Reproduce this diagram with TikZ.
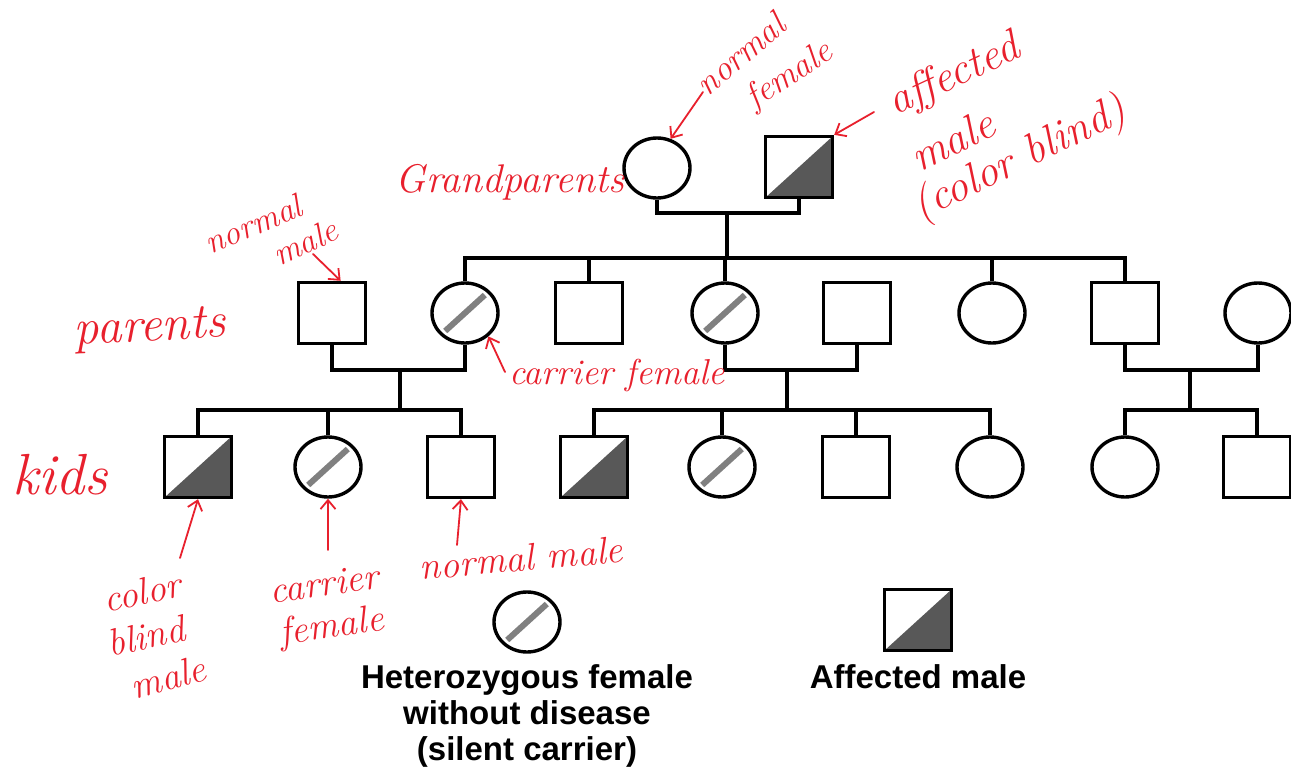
\documentclass[tikz,border=0pt]{standalone}
\usepackage{fontspec}
\newfontfamily\legendfont{Liberation Sans}
\usetikzlibrary{shapes.geometric,arrows.meta,calc}
\definecolor{ink}{RGB}{232,32,45}
\definecolor{darkfill}{RGB}{88,88,88}
\definecolor{bandgray}{RGB}{128,128,128}
\tikzset{
  person/.style={draw=black, line width=3.4pt, inner sep=0pt, fill=white},
  male/.style={person, rectangle, minimum width=67pt, minimum height=61pt},
  female/.style={person, ellipse, minimum width=66pt, minimum height=60pt},
  affected/.style={path picture={\fill[darkfill] (path picture bounding box.south west) -- (path picture bounding box.south east) -- (path picture bounding box.north east) -- cycle;}},
  carrier/.style={path picture={\draw[bandgray, line width=6pt] ($(path picture bounding box.south west)!0.2!(path picture bounding box.north east)$) -- ($(path picture bounding box.south west)!0.8!(path picture bounding box.north east)$);}},
  link/.style={draw=black, line width=3.4pt},
  hand/.style={text=ink, inner sep=0pt, align=center, font=\itshape\fontsize{38}{38}\selectfont},
  note/.style={draw=ink, line width=1.8pt, line cap=round, -{Straight Barb[length=9pt,width=15pt]}},
  legend/.style={inner sep=0pt, align=center, font=\legendfont\bfseries\fontsize{33}{36}\selectfont}
}
\begin{document}
\begin{tikzpicture}[x=1pt,y=-1pt]
\clip (0,0) rectangle (1291,774);
\fill[white] (0,0) rectangle (1291,774);

% grandparents
\node[female] (G1) at (657,168) {};
\node[male,affected] (G2) at (799,167) {};
% parents generation
\node[male] (P1) at (332,313) {};
\node[female,carrier] (P2) at (465,313) {};
\node[male] (P3) at (589,313) {};
\node[female,carrier] (P4) at (725,313) {};
\node[male] (P5) at (857,313) {};
\node[female] (P6) at (992,313) {};
\node[male] (P7) at (1125,313) {};
\node[female] (P8) at (1258,313) {};
% kids
\node[male,affected] (K1) at (198,467) {};
\node[female,carrier] (K2) at (328,467) {};
\node[male] (K3) at (461,467) {};
\node[male,affected] (K4) at (594,467) {};
\node[female,carrier] (K5) at (722,467) {};
\node[male] (K6) at (856,467) {};
\node[female] (K7) at (990,467) {};
\node[female] (K8) at (1125,467) {};
\node[male] (K9) at (1257,467) {};

% connector coordinates
\coordinate (gm) at (727,213);
\coordinate (gs) at (727,258);
\coordinate (m1) at (400,370);
\coordinate (s1) at (400,410);
\coordinate (m2) at (787,370);
\coordinate (s2) at (787,410);
\coordinate (m3) at (1190,370);
\coordinate (s3) at (1190,410);

% grandparents marriage and sibship
\draw[link] (G1.south) -- (G1.south |- gm) -- (G2.south |- gm) -- (G2.south);
\draw[link] (gm) -- (gs);
\draw[link] (P2.north) -- (P2.north |- gs) -- (P7.north |- gs) -- (P7.north);
\draw[link] (P3.north) -- (P3.north |- gs);
\draw[link] (P4.north) -- (P4.north |- gs);
\draw[link] (P6.north) -- (P6.north |- gs);
% couples
\draw[link] (P1.south) -- (P1.south |- m1) -- (P2.south |- m1) -- (P2.south);
\draw[link] (m1) -- (s1);
\draw[link] (P4.south) -- (P4.south |- m2) -- (P5.south |- m2) -- (P5.south);
\draw[link] (m2) -- (s2);
\draw[link] (P7.south) -- (P7.south |- m3) -- (P8.south |- m3) -- (P8.south);
\draw[link] (m3) -- (s3);
% kids sibships
\draw[link] (K1.north) -- (K1.north |- s1) -- (K3.north |- s1) -- (K3.north);
\draw[link] (K2.north) -- (K2.north |- s1);
\draw[link] (K4.north) -- (K4.north |- s2) -- (K7.north |- s2) -- (K7.north);
\draw[link] (K5.north) -- (K5.north |- s2);
\draw[link] (K6.north) -- (K6.north |- s2);
\draw[link] (K8.north) -- (K8.north |- s3) -- (K9.north |- s3) -- (K9.north);

% legend
\node[female,carrier] (L1) at (527,622) {};
\node[male,affected] (L2) at (918,620) {};
\node[legend, anchor=north] (L1t) at (527,664) {Heterozygous female\\without disease\\(silent carrier)};
\node[legend, anchor=north] (L2t) at (918,664) {Affected male};

% handwritten annotations
\node[hand, rotate=40, font=\itshape\fontsize{35}{35}\selectfont] (aNF1) at (740,54) {normal};
\node[hand, rotate=33, font=\itshape\fontsize{35}{35}\selectfont] (aNF2) at (790,76) {female};
\node[hand, rotate=25, font=\itshape\fontsize{44}{44}\selectfont] (aAM1) at (954,76) {affected};
\node[hand, rotate=26, font=\itshape\fontsize{44}{44}\selectfont] (aAM2) at (952,140) {male};
\node[hand, rotate=26, font=\itshape\fontsize{44}{44}\selectfont] (aAM3) at (1020,160) {(color blind)};
\node[hand, font=\itshape\fontsize{40}{40}\selectfont] (aGP) at (510,182) {Grandparents};
\node[hand, rotate=23, font=\itshape\fontsize{34}{34}\selectfont] (aNM1) at (253,224) {normal};
\node[hand, rotate=25, font=\itshape\fontsize{34}{34}\selectfont] (aNM2) at (305,242) {male};
\node[hand, rotate=3, font=\itshape\fontsize{50}{50}\selectfont] (aPA) at (150,330) {parents};
\node[hand, font=\itshape\fontsize{36}{36}\selectfont] (aCF) at (617,375) {carrier female};
\node[hand, font=\itshape\fontsize{58}{58}\selectfont] (aKI) at (60,475) {kids};
\node[hand, rotate=12] (aCB1) at (142,592) {color};
\node[hand, rotate=12] (aCB2) at (146,636) {blind};
\node[hand, rotate=15] (aCB3) at (168,677) {male};
\node[hand, rotate=8] (aCK1) at (324,584) {carrier};
\node[hand, rotate=8] (aCK2) at (332,628) {female};
\node[hand, rotate=5] (aNK) at (521,558) {normal male};

\coordinate (tNF) at (703,92);
\coordinate (tAM) at (874,112);
\coordinate (tNM) at (313,254);
\coordinate (tCF) at (505,372);
\coordinate (tCB) at (180,558);
\coordinate (tCK) at (328,550);
\coordinate (tNK) at (457,545);

\draw[note] (tNF) -- (G1.65);
\draw[note] (tAM) -- (G2.north east);
\draw[note] (tNM) -- (P1.75);
\draw[note] (tCF) -- (P2.-45);
\draw[note] (tCB) -- (K1.south);
\draw[note] (tCK) -- (K2.south);
\draw[note] (tNK) -- (K3.south);
\end{tikzpicture}
\end{document}
